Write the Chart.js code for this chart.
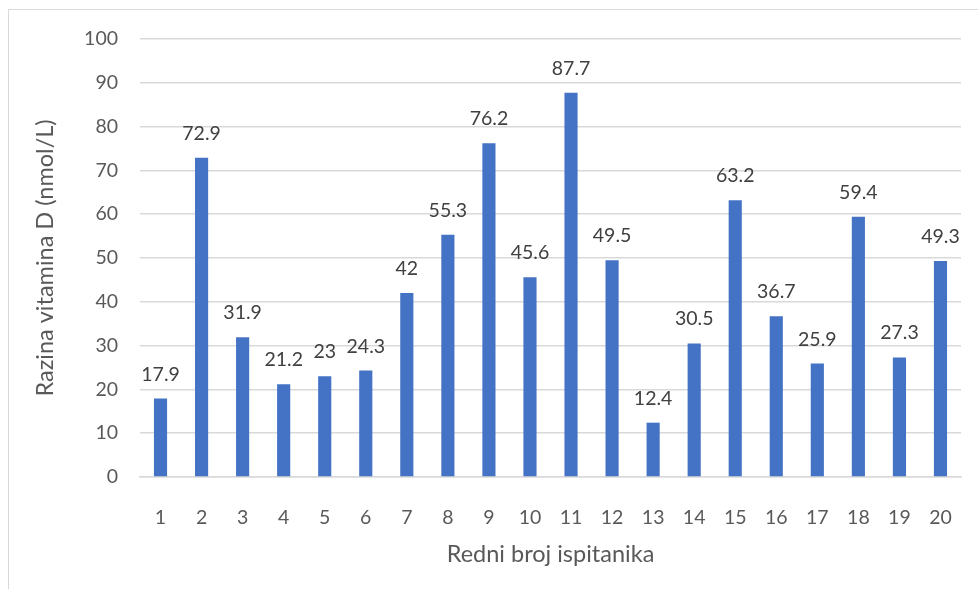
<!DOCTYPE html>
<html>
<head>
<meta charset="utf-8">
<script src="https://cdn.jsdelivr.net/npm/chart.js@4.4.0/dist/chart.umd.min.js"></script>
<style>
  html, body { margin: 0; padding: 0; background: #fff; }
  #wrap { position: relative; width: 978px; height: 589px; overflow: hidden; }
  #frame { position: absolute; left: 8px; top: 9px; width: 1000px; height: 600px; border: 1px solid #d9d9d9; box-sizing: border-box; }
  canvas { position: absolute; left: 0; top: 0; }
</style>
</head>
<body>
<div id="wrap">
  <div id="frame"></div>
  <canvas id="chart" width="978" height="589"></canvas>
</div>
<script>
const categories = ["1","2","3","4","5","6","7","8","9","10","11","12","13","14","15","16","17","18","19","20"];
const values = [17.9, 72.9, 31.9, 21.2, 23, 24.3, 42, 55.3, 76.2, 45.6, 87.7, 49.5, 12.4, 30.5, 63.2, 36.7, 25.9, 59.4, 27.3, 49.3];
const yTicks = [0, 10, 20, 30, 40, 50, 60, 70, 80, 90, 100];

const fontFamily = "Lato, 'Open Sans', sans-serif";

// labels above each bar
const barLabels = {
  id: 'barLabels',
  afterDatasetsDraw(chart) {
    const ctx = chart.ctx;
    const meta = chart.getDatasetMeta(0);
    ctx.save();
    ctx.font = "19.5px " + fontFamily;
    ctx.fillStyle = "#404040";
    ctx.textAlign = "center";
    ctx.textBaseline = "alphabetic";
    meta.data.forEach((bar, i) => {
      ctx.fillText(String(values[i]), bar.x, bar.y - 18);
    });
    ctx.restore();
  }
};

new Chart(document.getElementById("chart"), {
  type: 'bar',
  data: {
    labels: categories,
    datasets: [{
      data: values,
      backgroundColor: '#4472C4',
      barPercentage: 0.32,
      categoryPercentage: 1
    }]
  },
  options: {
    responsive: false,
    animation: false,
    layout: { padding: { left: 0, top: 39, right: 17, bottom: 0 } },
    plugins: {
      legend: { display: false },
      tooltip: { enabled: false }
    },
    scales: {
      x: {
        grid: { display: false },
        border: { display: true, color: '#d9d9d9', width: 1.5 },
        ticks: {
          color: '#595959',
          font: { family: fontFamily, size: 19.5 },
          padding: 21,
          maxRotation: 0
        },
        title: {
          display: true,
          text: 'Redni broj ispitanika',
          color: '#595959',
          font: { family: fontFamily, size: 23.5 },
          padding: { top: 0, bottom: 20 }
        },
        afterFit(scale) { scale.height = 112; }
      },
      y: {
        min: 0,
        max: 100,
        afterBuildTicks(scale) { scale.ticks = yTicks.map(v => ({ value: v })); },
        grid: { color: '#d9d9d9', lineWidth: 1.5, drawTicks: false },
        border: { display: false },
        ticks: {
          color: '#595959',
          font: { family: fontFamily, size: 19.5 },
          padding: 22
        },
        title: {
          display: true,
          text: 'Razina vitamina D (nmol/L)',
          color: '#595959',
          font: { family: fontFamily, size: 23.5 },
          padding: { top: 31, bottom: 0 }
        },
        afterFit(scale) { scale.width = 140; }
      }
    }
  },
  plugins: [barLabels]
});
</script>
</body>
</html>
